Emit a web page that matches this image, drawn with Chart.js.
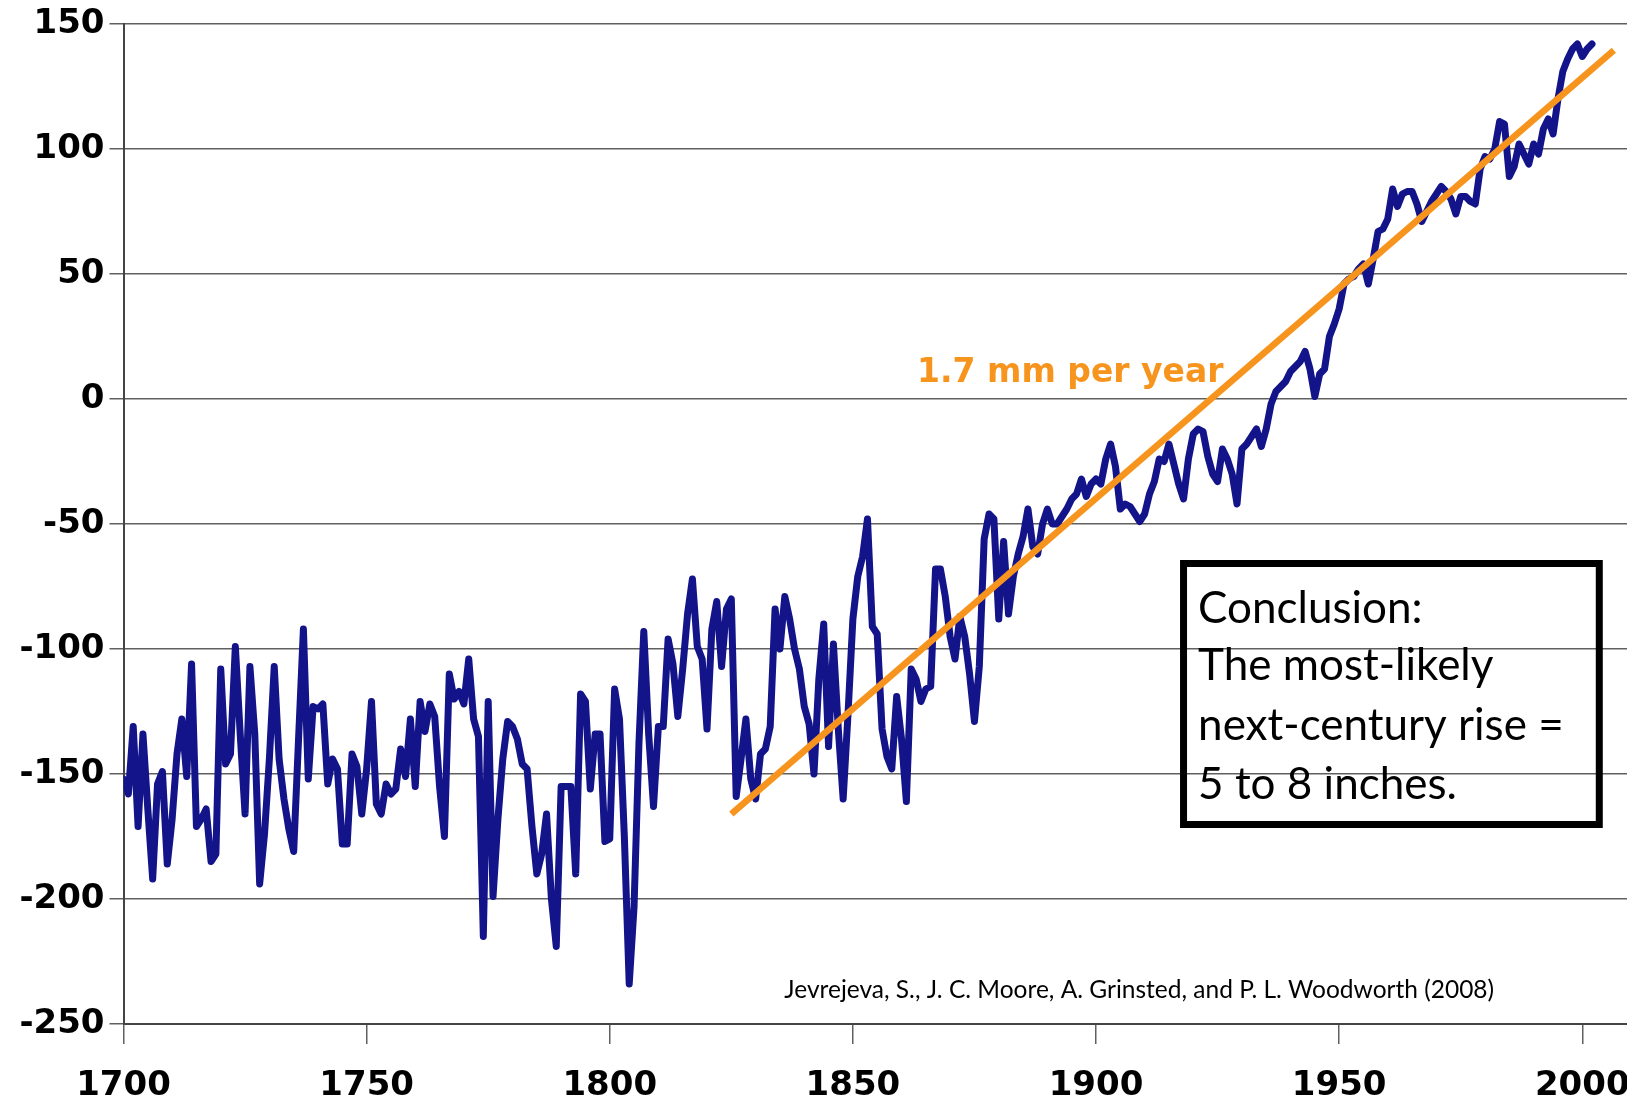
<!DOCTYPE html>
<html>
<head>
<meta charset="utf-8">
<script src="https://cdn.jsdelivr.net/npm/chart.js@4.4.1/dist/chart.umd.min.js"></script>
<style>
  html, body { margin: 0; padding: 0; background: #fff; overflow: hidden; }
</style>
</head>
<body>
<canvas id="chart" width="1627" height="1104"></canvas>
<script>
// Global mean sea level (mm), one value per year from 1700
const firstYear = 1700;
const seaLevel = [
  -152, -158, -131, -171, -134, -164, -192, -154, -149, -186,
  -168, -142, -128, -151, -106, -171, -168, -164, -185, -182,
  -108, -146, -142, -99, -134, -166, -107, -134, -194, -174,
  -144, -107, -144, -160, -172, -181, -136, -92, -152, -123,
  -124, -122, -154, -144, -148, -178, -178, -142, -147, -166,
  -148, -121, -162, -166, -154, -158, -156, -140, -151, -128,
  -155, -121, -133, -122, -127, -155, -175, -110, -120, -117,
  -122, -104, -128, -135, -215, -121, -199, -168, -144, -129,
  -131, -136, -146, -148, -171, -190, -182, -166, -200, -219,
  -155, -155, -155, -190, -118, -121, -156, -134, -134, -177,
  -176, -116, -128, -175, -234, -203, -138, -93, -134, -163,
  -131, -131, -96, -106, -127, -108, -86, -72, -99, -104,
  -132, -92, -81, -107, -84, -80, -159, -144, -128, -152,
  -160, -142, -140, -131, -84, -100, -79, -88, -100, -108,
  -123, -130, -150, -112, -90, -139, -98, -132, -160, -126,
  -88, -71, -63, -48, -91, -94, -132, -143, -148, -119,
  -136, -161, -108, -112, -121, -116, -115, -68, -68, -79,
  -95, -104, -87, -95, -110, -129, -107, -56, -46, -48,
  -88, -57, -86, -71, -62, -55, -44, -59, -62, -50,
  -44, -50, -50, -47, -44, -40, -38, -32, -39, -34,
  -32, -34, -24, -18, -27, -44, -42, -43, -46, -49,
  -46, -38, -33, -24, -25, -18, -26, -34, -40, -24,
  -14, -12, -13, -23, -30, -33, -20, -24, -30, -42,
  -20, -18, -15, -12, -19, -12, -2, 3, 5, 7,
  11, 13, 15, 19, 12, 1, 10, 12, 25, 30,
  36, 46, 48, 49, 52, 54, 46, 56, 67, 68,
  72, 84, 77, 82, 83, 83, 78, 71, 75, 79,
  82, 85, 83, 80, 74, 81, 81, 79, 78, 92,
  97, 96, 100, 111, 110, 89, 93, 102, 98, 94,
  102, 98, 108, 112, 106, 120, 131, 136, 140, 142,
  137, 140, 142
];
const years = seaLevel.map((_, i) => firstYear + i);

// Linear trend, 1.7 mm per year
const trendYears = [1825, 2006.5];
const trendValues = [-166, 139.5];

const xTicks = [1700, 1750, 1800, 1850, 1900, 1950, 2000];
const yTicks = [-250, -200, -150, -100, -50, 0, 50, 100, 150];

const boxLines = ['Conclusion:', 'The most-likely', 'next-century rise =', '5 to 8 inches.'];
const citation = 'Jevrejeva, S., J. C. Moore, A. Grinsted, and P. L. Woodworth (2008)';

const tickFont = { family: '"DejaVu Sans"', weight: 'bold', size: 34, lineHeight: 1 };

const notes = {
  id: 'notes',
  afterDatasetsDraw(chart) {
    const { ctx, scales: { x, y } } = chart;
    ctx.save();
    ctx.textBaseline = 'alphabetic';
    ctx.textAlign = 'left';

    ctx.fillStyle = '#F7941D';
    ctx.font = 'bold 33px "DejaVu Sans"';
    ctx.fillText('1.7 mm per year', x.getPixelForValue(1863.2), y.getPixelForValue(7));

    const l = x.getPixelForValue(1918), r = x.getPixelForValue(2003.5);
    const t = y.getPixelForValue(-65.8), b = y.getPixelForValue(-170.2);
    ctx.strokeStyle = '#000';
    ctx.lineWidth = 7;
    ctx.strokeRect(l, t, r - l, b - t);

    ctx.fillStyle = '#000';
    ctx.font = '44px Lato';
    const baselines = [-89.7, -112.4, -136.4, -160];
    boxLines.forEach((s, i) => ctx.fillText(s, x.getPixelForValue(1921), y.getPixelForValue(baselines[i])));

    ctx.font = '24.5px Lato';
    ctx.fillText(citation, x.getPixelForValue(1835.9), y.getPixelForValue(-239.6));
    ctx.restore();
  }
};

new Chart(document.getElementById('chart'), {
  type: 'line',
  data: {
    datasets: [
      {
        label: 'Trend',
        data: trendYears.map((v, i) => ({ x: v, y: trendValues[i] })),
        borderColor: '#F7941D',
        borderWidth: 6.5,
        pointRadius: 0,
        order: 0
      },
      {
        label: 'Sea level',
        data: years.map((v, i) => ({ x: v, y: seaLevel[i] })),
        borderColor: '#13138A',
        borderWidth: 7,
        borderJoinStyle: 'round',
        borderCapStyle: 'round',
        pointRadius: 0,
        tension: 0,
        order: 1
      }
    ]
  },
  options: {
    responsive: false,
    animation: false,
    layout: { padding: { top: 24, right: 0, bottom: 0, left: 0 } },
    plugins: { legend: { display: false }, tooltip: { enabled: false } },
    scales: {
      x: {
        type: 'linear',
        min: 1700,
        max: 2009.2,
        afterBuildTicks: (s) => { s.ticks = xTicks.map((v) => ({ value: v })); },
        afterFit: (s) => { s.height = 80; s.paddingRight = 0; },
        ticks: { callback: (v) => String(v), font: tickFont, color: '#000', padding: 25, maxRotation: 0, autoSkip: false },
        grid: { drawOnChartArea: false, drawTicks: true, tickLength: 20, color: '#606060', lineWidth: 1.5 },
        border: { color: '#444', width: 2 }
      },
      y: {
        min: -250,
        max: 150,
        afterBuildTicks: (s) => { s.ticks = yTicks.map((v) => ({ value: v })); },
        afterFit: (s) => { s.width = 123.5; },
        ticks: { font: tickFont, color: '#000', padding: 5 },
        grid: { color: '#606060', lineWidth: 1.5, tickLength: 14 },
        border: { color: '#444', width: 2 }
      }
    }
  },
  plugins: [notes]
});
</script>
</body>
</html>
